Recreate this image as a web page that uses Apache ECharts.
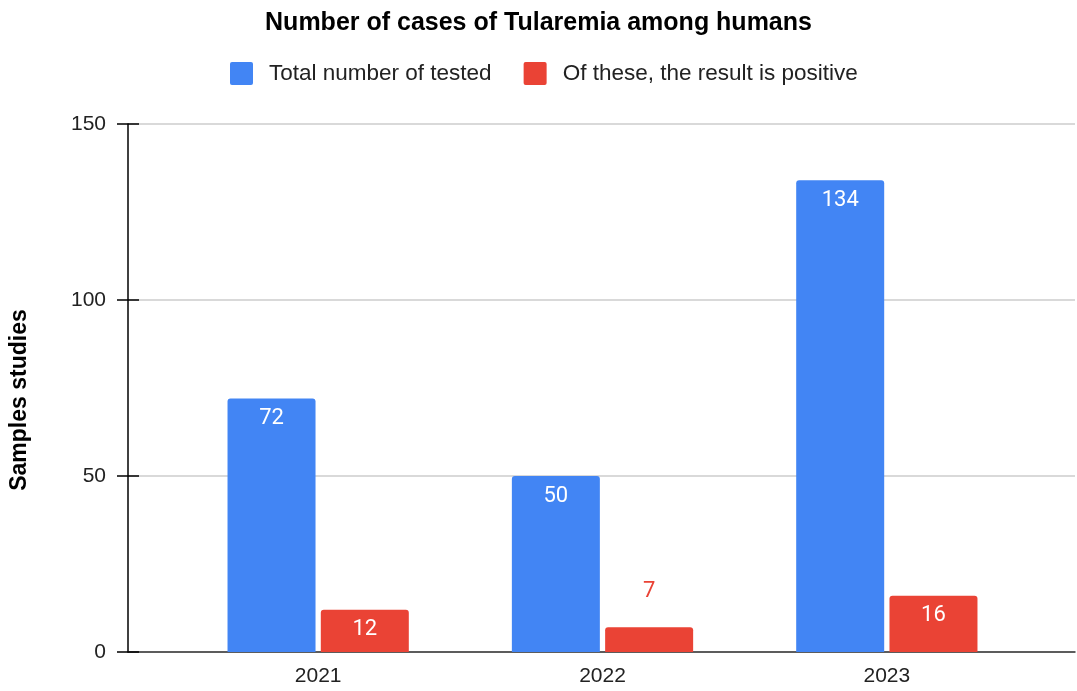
<!DOCTYPE html>
<html>
<head>
<meta charset="utf-8">
<script src="https://cdn.jsdelivr.net/npm/echarts@6/dist/echarts.min.js"></script>
<style>
  html, body { margin: 0; padding: 0; background: #fff; }
  #chart { width: 1077px; height: 691px; }
</style>
</head>
<body>
<div id="chart"></div>
<script>
// data
var years = ['2021', '2022', '2023'];
var tested = [72, 50, 134];
var positive = [12, 7, 16];
var yTicks = [0, 50, 100, 150];

var chart = echarts.init(document.getElementById('chart'));

// the short red bar gets its label above, like the original
var positiveData = positive.map(function (v) {
  if (v < 10) {
    return {
      value: v,
      label: { position: 'top', distance: 25, color: '#ea4335' }
    };
  }
  return v;
});

// square legend swatch with small rounded corners
var swatch = 'path://M2,0H21A2,2,0,0,1,23,2V21A2,2,0,0,1,21,23H2A2,2,0,0,1,0,21V2A2,2,0,0,1,2,0Z';

var option = {
  animation: false,
  title: {
    text: 'Number of cases of Tularemia among humans',
    left: 'center',
    top: 6,
    textStyle: { fontFamily: 'Liberation Sans', fontSize: 25, fontWeight: 'bold', color: '#000' }
  },
  legend: {
    top: 57,
    left: 225,
    itemWidth: 23,
    itemHeight: 23,
    itemGap: 32,
    icon: swatch,
    textStyle: { fontFamily: 'Liberation Sans', fontSize: 22.5, color: '#222', padding: [0, 0, 0, 11] },
    data: ['Total number of tested', 'Of these, the result is positive']
  },
  graphic: [{
    type: 'text',
    x: 20, y: 400, rotation: Math.PI / 2,
    style: {
      text: 'Samples studies',
      fontFamily: 'Liberation Sans', fontSize: 23, fontWeight: 'bold', fill: '#000',
      align: 'center', verticalAlign: 'middle'
    }
  }],
  grid: [
    // background grid: lines, ticks and axis across the full width
    { left: 128, right: 2, top: 124, bottom: 39 },
    // bars grid, inset like the original
    { left: 176, right: 48, top: 124, bottom: 39 }
  ],
  xAxis: [
    {
      gridIndex: 0, type: 'category', data: [''],
      axisLine: { lineStyle: { color: '#333', width: 1.5 } },
      axisTick: { show: false }, axisLabel: { show: false }
    },
    {
      gridIndex: 1, type: 'category', data: years,
      axisLine: { show: false }, axisTick: { show: false },
      axisLabel: { margin: 14, fontFamily: 'Liberation Sans', fontSize: 21, color: '#222' }
    }
  ],
  yAxis: [
    {
      gridIndex: 0, type: 'value', position: 'left', min: 0, max: 150, interval: 50,
      axisLine: { show: true, lineStyle: { color: '#000', width: 1.5 } },
      axisTick: { show: true, length: 11, lineStyle: { color: '#000', width: 1.5 } },
      axisLabel: {
        margin: 22, fontFamily: 'Liberation Sans', fontSize: 21, color: '#222',
        formatter: function (v) { return yTicks.indexOf(v) >= 0 ? String(v) : ''; }
      },
      splitLine: { show: true, lineStyle: { color: '#cccccc', width: 1.5 } }
    },
    {
      gridIndex: 0, type: 'value', position: 'left', offset: 0, min: 0, max: 150, interval: 50,
      axisLine: { show: false },
      axisTick: { show: true, inside: true, length: 11, lineStyle: { color: '#000', width: 1.5 } },
      axisLabel: { show: false }, splitLine: { show: false }
    },
    {
      gridIndex: 1, type: 'value', min: 0, max: 150, interval: 50,
      axisLine: { show: false }, axisTick: { show: false },
      axisLabel: { show: false }, splitLine: { show: false }
    }
  ],
  series: [
    {
      name: 'Total number of tested',
      type: 'bar', xAxisIndex: 1, yAxisIndex: 2,
      data: tested,
      barWidth: 88, barGap: '6%',
      itemStyle: { color: '#4285f4', borderRadius: [3, 3, 0, 0] },
      label: {
        show: true, position: 'insideTop', distance: 9,
        fontFamily: 'Roboto', fontSize: 22, color: '#fff'
      }
    },
    {
      name: 'Of these, the result is positive',
      type: 'bar', xAxisIndex: 1, yAxisIndex: 2,
      data: positiveData,
      barWidth: 88, barGap: '6%',
      itemStyle: { color: '#ea4335', borderRadius: [3, 3, 0, 0] },
      label: {
        show: true, position: 'insideTop', distance: 9,
        fontFamily: 'Roboto', fontSize: 22, color: '#fff'
      }
    }
  ]
};

chart.setOption(option);
</script>
</body>
</html>
